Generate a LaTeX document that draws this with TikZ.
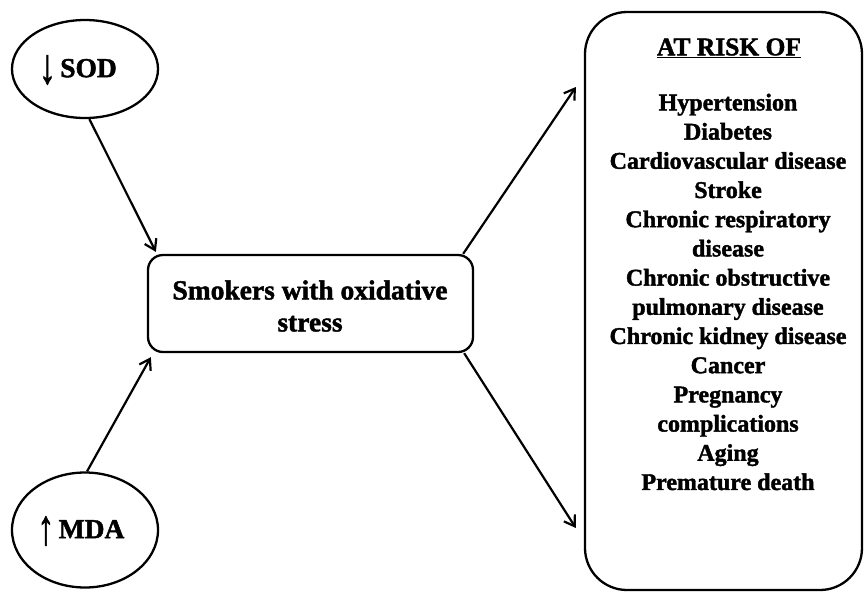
\documentclass[tikz,border=0pt]{standalone}
\usepackage{fontspec}
\setmainfont{Liberation Serif}[BoldFeatures={FakeBold=1.6}]
\usetikzlibrary{shapes.geometric,arrows.meta}
\newcommand{\bigdown}{{\raisebox{-6pt}{\scalebox{1.2}[1.8]{↓}}}}
\newcommand{\bigup}{{\raisebox{-6pt}{\scalebox{1.2}[1.8]{↑}}}}
\tikzset{
  oval/.style={draw, ellipse, line width=2.3pt, inner sep=0pt},
  boxed/.style={draw, rounded corners=15pt, line width=2.3pt, inner sep=0pt},
  riskbox/.style={draw, rounded corners=42pt, line width=2.3pt, inner sep=0pt},
  txt/.style={font=\fontsize{27.5pt}{32pt}\selectfont\bfseries, align=center, inner sep=0pt},
  listtxt/.style={font=\fontsize{24pt}{29.2pt}\selectfont\bfseries, align=center, inner sep=0pt},
  arr/.style={line width=2.2pt, -{Straight Barb[length=10pt,width=13pt,line width=2.2pt]}}
}
\begin{document}
\begin{tikzpicture}[x=1pt,y=-1pt]
\useasboundingbox (0,0) rectangle (867,592);
\node[oval, minimum width=146pt, minimum height=98pt] (sod) at (85,69) {};
\node[txt] (sodt) at (78,70) {\bigdown\,SOD};
\node[oval, minimum width=146pt, minimum height=115pt] (mda) at (85,530) {};
\node[txt] (mdat) at (81,531) {\bigup\,MDA};
\node[boxed, minimum width=325pt, minimum height=97pt] (smk) at (310.5,303.5) {};
\node[txt] (smkt) at (310,306) {Smokers with oxidative\\stress};
\node[riskbox, minimum width=277pt, minimum height=578pt] (risk) at (723.5,301) {};
\node[font=\fontsize{25.5pt}{28pt}\selectfont\bfseries, inner sep=0pt] (title) at (729,48) {\underline{AT RISK OF}};
\node[listtxt] (list) at (728,292) {Hypertension\\Diabetes\\Cardiovascular disease\\Stroke\\Chronic respiratory\\disease\\Chronic obstructive\\pulmonary disease\\Chronic kidney disease\\Cancer\\Pregnancy\\complications\\Aging\\Premature death};
\draw[arr] (sod.-85) -- ([xshift=9pt,yshift=2pt]smk.north west);
\draw[arr] (mda.88) -- ([xshift=4pt,yshift=-4pt]smk.south west);
\draw[arr] ([xshift=-11pt]smk.north east) -- ([xshift=-8pt,yshift=214pt]risk.west);
\draw[arr] ([xshift=-10pt]smk.south east) -- ([xshift=-8pt,yshift=-227pt]risk.west);
\end{tikzpicture}
\end{document}
